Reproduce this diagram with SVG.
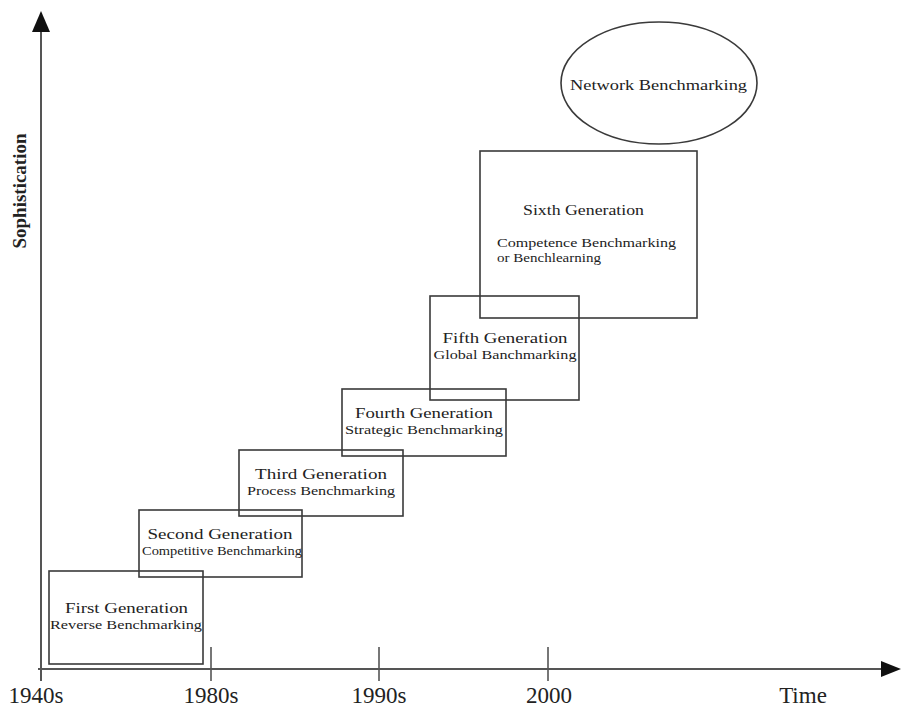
<svg xmlns="http://www.w3.org/2000/svg" width="901" height="709" viewBox="0 0 901 709">
<style>
.box{fill:none;stroke:#3a3a3a;stroke-width:1.6}
.axis{stroke:#555;stroke-width:2;fill:none}
.tick{stroke:#555;stroke-width:1.6}
text{font-family:"Liberation Serif","Times New Roman",serif;fill:#222}
.t{font-size:15.5px;text-anchor:middle}
.s{font-size:12.5px;text-anchor:middle}
.lab{font-size:23px;text-anchor:middle}
</style>
<rect width="901" height="709" fill="#fff"/>
<g id="connectors">
<line class="axis" x1="41" y1="681" x2="41" y2="28"/>
<path d="M32,32 L41,11 L50,32 Z" fill="#111"/>
<line class="axis" x1="38" y1="669" x2="884" y2="669"/>
<path d="M881,661 L901,669 L881,677 Z" fill="#111"/>
<line class="tick" x1="211" y1="647" x2="211" y2="681"/>
<line class="tick" x1="379" y1="647" x2="379" y2="681"/>
<line class="tick" x1="548" y1="647" x2="548" y2="681"/>
</g>
<g id="labels">
<text class="lab" x="36" y="703">1940s</text>
<text class="lab" x="211" y="703">1980s</text>
<text class="lab" x="379" y="703">1990s</text>
<text class="lab" x="549" y="703">2000</text>
<text class="lab" x="803" y="703">Time</text>
<text x="26" y="191" font-size="19" font-weight="bold" text-anchor="middle" transform="rotate(-90 26 191)">Sophistication</text>
</g>
<g id="gen1">
<rect class="box" x="49" y="571" width="154" height="93"/>
<text class="t" x="126.5" y="613" textLength="123" lengthAdjust="spacingAndGlyphs">First Generation</text>
<text class="s" x="126" y="629" textLength="152" lengthAdjust="spacingAndGlyphs">Reverse Benchmarking</text>
</g>
<g id="gen2">
<rect class="box" x="139" y="510" width="163" height="67"/>
<text class="t" x="220" y="539" textLength="145" lengthAdjust="spacingAndGlyphs">Second Generation</text>
<text class="s" x="222" y="555" textLength="160" lengthAdjust="spacingAndGlyphs">Competitive Benchmarking</text>
</g>
<g id="gen3">
<rect class="box" x="239" y="450" width="164" height="66"/>
<text class="t" x="321" y="479" textLength="132" lengthAdjust="spacingAndGlyphs">Third Generation</text>
<text class="s" x="321" y="495" textLength="148" lengthAdjust="spacingAndGlyphs">Process Benchmarking</text>
</g>
<g id="gen4">
<rect class="box" x="342" y="389" width="164" height="67"/>
<text class="t" x="424" y="418" textLength="138" lengthAdjust="spacingAndGlyphs">Fourth Generation</text>
<text class="s" x="424" y="434" textLength="158" lengthAdjust="spacingAndGlyphs">Strategic Benchmarking</text>
</g>
<g id="gen5">
<rect class="box" x="430" y="296" width="149" height="104"/>
<text class="t" x="505" y="343" textLength="125" lengthAdjust="spacingAndGlyphs">Fifth Generation</text>
<text class="s" x="505" y="359" textLength="143" lengthAdjust="spacingAndGlyphs">Global Banchmarking</text>
</g>
<g id="gen6">
<rect class="box" x="480" y="151" width="217" height="167"/>
<text class="t" x="583.5" y="215" textLength="121" lengthAdjust="spacingAndGlyphs">Sixth Generation</text>
<text x="497" y="247" font-size="12.5" textLength="179" lengthAdjust="spacingAndGlyphs">Competence Benchmarking</text>
<text x="497" y="262" font-size="12.5" textLength="104" lengthAdjust="spacingAndGlyphs">or Benchlearning</text>
</g>
<g id="network">
<ellipse cx="659" cy="83" rx="98" ry="61" fill="none" stroke="#3a3a3a" stroke-width="1.6"/>
<text x="658.5" y="90" font-size="15" text-anchor="middle" textLength="177" lengthAdjust="spacingAndGlyphs">Network Benchmarking</text>
</g>
</svg>
